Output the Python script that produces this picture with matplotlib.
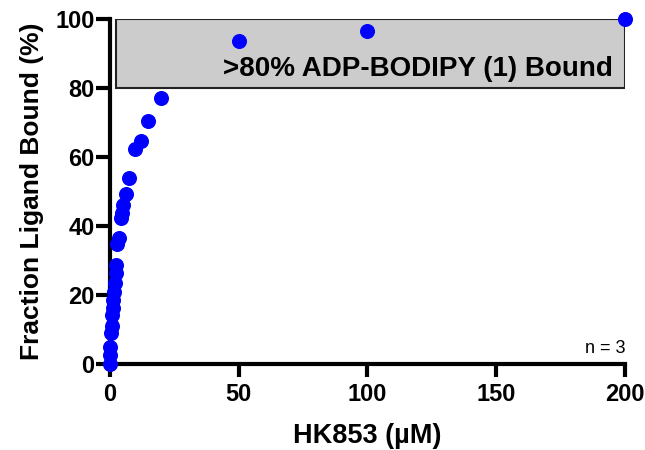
import matplotlib
matplotlib.use("Agg")
import matplotlib.pyplot as plt
from matplotlib.patches import Rectangle

conc = [0, 0.1, 0.2, 0.4, 0.6, 0.8, 1.0, 1.2, 1.5, 1.8, 2.2, 2.5, 2.8, 3.4,
        4.1, 4.5, 5.2, 6.2, 7.4, 9.7, 11.9, 14.9, 19.7, 50, 100, 200]
bound = [0, 2.5, 5, 9, 11, 14.2, 16.1, 18.5, 21, 23.4, 26.3, 28.7, 34.8, 36.4,
         42.2, 43.7, 46, 49.2, 54, 62.2, 64.6, 70.5, 77.2, 93.6, 96.5, 100]
err = [0.3, 0.5, 0.8, 1.0, 1.2, 0.8, 0.8, 0.8, 0.8, 0.6, 0.6, 0.6, 0.6, 0.6,
       0.5, 0.5, 0.5, 0.5, 0.5, 0.5, 0.5, 0.5, 0.5, 0.5, 0.5, 0.5]

box_x = [2.3, 200]
box_y = [80, 100]
box_label = ">80% ADP-BODIPY (1) Bound"

plt.rcParams['font.family'] = ['Liberation Sans', 'DejaVu Sans']

fig = plt.figure(figsize=(6.45, 4.5), dpi=100)
ax = fig.add_axes([0.1705, 0.191, 0.7985, 0.767])

ax.add_patch(Rectangle((box_x[0], box_y[0]), box_x[1] - box_x[0], box_y[1] - box_y[0],
                       facecolor='#cccccc', edgecolor='#222222', lw=1.5, zorder=1))
ax.text(0.976 * box_x[1], 83.5, box_label,
        ha='right', va='baseline', fontsize=20, fontweight='bold', zorder=2)

ax.errorbar(conc, bound, yerr=err, fmt='o', color='blue', ms=9.8, mec='blue',
            ecolor='black', elinewidth=1, capsize=4, capthick=1, clip_on=False, zorder=5)

ax.set_xlim(0, 200)
ax.set_ylim(0, 100)
ax.set_xticks([0, 50, 100, 150, 200])
ax.set_yticks([0, 20, 40, 60, 80, 100])
for s in ['top', 'right']:
    ax.spines[s].set_visible(False)
for s in ['left', 'bottom']:
    ax.spines[s].set_linewidth(3)
ax.tick_params(axis='x', width=3, length=9, labelsize=17, pad=5)
ax.tick_params(axis='y', width=3, length=10, labelsize=17, pad=1)
for lbl in ax.get_xticklabels() + ax.get_yticklabels():
    lbl.set_fontweight('bold')

ax.set_xlabel("HK853 (µM)", fontsize=19.5, fontweight='bold', labelpad=12)
ax.set_ylabel("Fraction Ligand Bound (%)", fontsize=19, fontweight='bold', labelpad=8)
ax.text(1.0, 0.02, "n = 3", transform=ax.transAxes, ha='right', va='bottom', fontsize=13)

fig.savefig("out.png", dpi=100)
